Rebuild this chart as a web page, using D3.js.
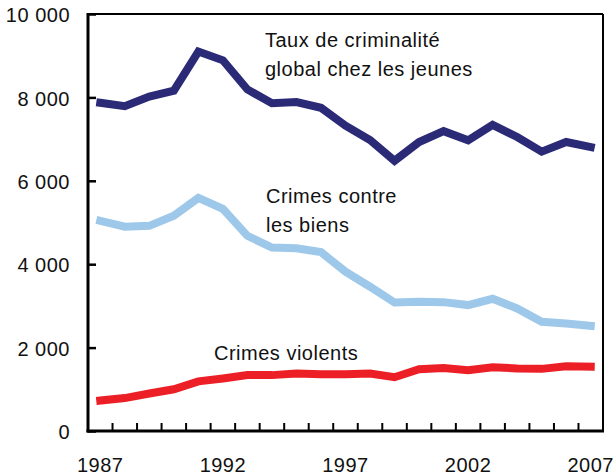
<!DOCTYPE html>
<html>
<head>
<meta charset="utf-8">
<script src="https://cdn.jsdelivr.net/npm/d3@7"></script>
<style>
    body { margin: 0; background: #fff; }
    text { font-family: "Liberation Sans", Arial, sans-serif; font-size: 20px; letter-spacing: 0.5px; fill: #111; }
</style>
</head>
<body>
<div id="chart"></div>
<script>
// Youth crime rates, 1987-2007 (per 100 000 youth)
const years = d3.range(1987, 2008);
const yearLabels = [1987, 1992, 1997, 2002, 2007];
const yTicks = [0, 2000, 4000, 6000, 8000, 10000];

const totalRate = [7870, 7790, 8020, 8160, 9100, 8890, 8190, 7860, 7890, 7750, 7320, 6980, 6480,
    6930, 7190, 6970, 7340, 7050, 6700, 6930, 6810];
const propertyRate = [5040, 4900, 4920, 5160, 5590, 5330, 4680, 4400, 4380, 4290, 3820, 3460, 3080,
    3100, 3090, 3020, 3170, 2940, 2620, 2580, 2520];
const violentRate = [730, 790, 900, 1000, 1190, 1260, 1340, 1340, 1380, 1360, 1360, 1380, 1290,
    1480, 1510, 1460, 1530, 1500, 1490, 1550, 1540];

const seriesValues = [totalRate, propertyRate, violentRate];
const seriesColors = ["#2b2a77", "#9dc8ea", "#ec1f27"];

const width = 615;
const height = 476;
const plot = { left: 88, right: 603, top: 14, bottom: 431 };

const svg = d3.select("#chart")
    .append("svg")
    .attr("width", width)
    .attr("height", height);

const x = d3.scaleBand()
    .domain(years)
    .range([plot.left, plot.right]);

const y = d3.scaleLinear()
    .domain([0, 10000])
    .range([plot.bottom, plot.top]);

const locale = d3.formatLocale({ decimal: ",", thousands: " ", grouping: [3], currency: ["", ""] });
const fmt = locale.format(",");

// Lines (drawn first so the frame sits on top)
const line = d3.line()
    .x((d, i) => x(years[i]) + x.bandwidth() / 2)
    .y(d => y(d));

svg.selectAll(".series")
    .data(seriesValues)
    .enter()
    .append("path")
    .attr("class", "series")
    .attr("d", d => line(d))
    .attr("fill", "none")
    .attr("stroke", (d, i) => seriesColors[i])
    .attr("stroke-width", 8)
    .attr("stroke-linecap", "square")
    .attr("stroke-linejoin", "miter");

// Y axis, ticks pointing inward
const yAxis = svg.append("g")
    .attr("transform", `translate(${plot.left},0)`)
    .call(d3.axisLeft(y)
        .tickValues(yTicks)
        .tickFormat(fmt)
        .tickSizeInner(-8)
        .tickSizeOuter(0)
        .tickPadding(18));
yAxis.select(".domain").remove();
yAxis.selectAll(".tick line").attr("stroke", "#000").attr("stroke-width", 2.5);
yAxis.selectAll(".tick text").attr("dy", "0.38em");
yAxis.attr("font-size", null).attr("font-family", null);

// X axis: ticks at year boundaries, labels every five years
const boundaries = years.slice(1);
svg.selectAll(".xtick")
    .data(boundaries)
    .enter()
    .append("line")
    .attr("class", "xtick")
    .attr("x1", d => x(d))
    .attr("x2", d => x(d))
    .attr("y1", plot.bottom)
    .attr("y2", plot.bottom - 8)
    .attr("stroke", "#000")
    .attr("stroke-width", 2);

svg.selectAll(".xlabel")
    .data(yearLabels)
    .enter()
    .append("text")
    .attr("class", "xlabel")
    .attr("x", d => x(d) + x.bandwidth() / 2)
    .attr("y", 472)
    .attr("text-anchor", "middle")
    .text(d => d);

// Frame
svg.append("line").attr("x1", plot.left).attr("x2", plot.right).attr("y1", plot.top).attr("y2", plot.top)
    .attr("stroke", "#000").attr("stroke-width", 2);
svg.append("line").attr("x1", plot.right).attr("x2", plot.right).attr("y1", plot.top).attr("y2", plot.bottom)
    .attr("stroke", "#000").attr("stroke-width", 2);
svg.append("line").attr("x1", plot.left).attr("x2", plot.left).attr("y1", plot.top - 1).attr("y2", plot.bottom + 1.5)
    .attr("stroke", "#000").attr("stroke-width", 3);
svg.append("line").attr("x1", plot.left - 1.5).attr("x2", plot.right + 1).attr("y1", plot.bottom).attr("y2", plot.bottom)
    .attr("stroke", "#000").attr("stroke-width", 3);

// Series labels
const labels = [
    { lines: ["Taux de criminalité", "global chez les jeunes"], x: 265, y: 47 },
    { lines: ["Crimes contre", "les biens"], x: 266, y: 203 },
    { lines: ["Crimes violents"], x: 214, y: 360 }
];

labels.forEach(l => {
    const t = svg.append("text")
        .attr("x", l.x)
        .attr("y", l.y);
    l.lines.forEach((s, i) => {
        t.append("tspan")
            .attr("x", l.x)
            .attr("dy", i === 0 ? 0 : 29)
            .text(s);
    });
});
</script>
</body>
</html>
